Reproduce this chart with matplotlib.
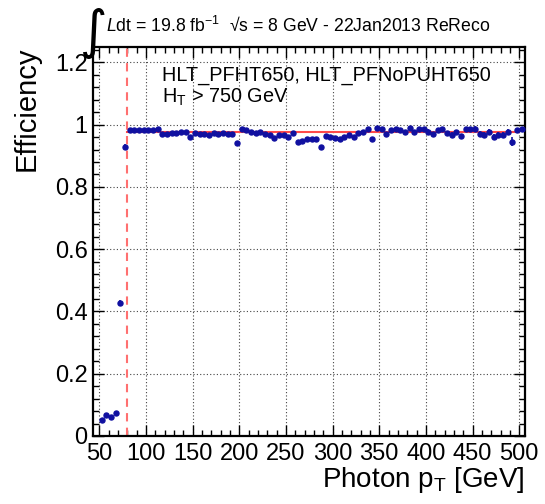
import numpy as np
import matplotlib
matplotlib.use("Agg")
import matplotlib.pyplot as plt
from matplotlib.ticker import MultipleLocator, FuncFormatter

plt.rcParams['font.family'] = ['Liberation Sans', 'DejaVu Sans']
plt.rcParams['mathtext.fontset'] = 'custom'
plt.rcParams['mathtext.rm'] = 'Liberation Sans'
plt.rcParams['mathtext.it'] = 'Liberation Sans:italic'

# photon pT bin centres (5 GeV bins) and trigger efficiency
pt_low = [52.5, 57.5, 62.5, 67.5, 72.5, 77.5]
eff_low = [0.052, 0.068, 0.061, 0.075, 0.427, 0.929]
err_low = [0.003, 0.003, 0.003, 0.004, 0.010, 0.008]

eff_plateau = [0.984, 0.983, 0.983, 0.983, 0.984, 0.984, 0.985,
               0.969, 0.970, 0.972, 0.974, 0.976, 0.976, 0.960, 0.974,
               0.971, 0.969, 0.967, 0.973, 0.971, 0.974, 0.969, 0.971,
               0.942, 0.985, 0.982, 0.978, 0.974, 0.976, 0.971, 0.966,
               0.957, 0.966, 0.968, 0.960, 0.974, 0.944, 0.949, 0.953,
               0.953, 0.955, 0.928, 0.963, 0.960, 0.957, 0.953, 0.960,
               0.966, 0.960, 0.974, 0.978, 0.987, 0.955, 0.990, 0.985,
               0.971, 0.982, 0.987, 0.982, 0.976, 0.989, 0.978, 0.987,
               0.985, 0.978, 0.971, 0.982, 0.987, 0.974, 0.968, 0.976,
               0.963, 0.987, 0.985, 0.987, 0.971, 0.968, 0.976, 0.960,
               0.968, 0.966, 0.976, 0.945, 0.982, 0.987]
err_plateau = [0.002] * 7 + [0.004] * 16 + [0.005] * 20 + [0.006] * 20 + \
              [0.007] * 10 + [0.009] * 9 + [0.015, 0.008, 0.006]
pt_plateau = [82.5 + 5 * i for i in range(len(eff_plateau))]

fit_value = 0.978
fit_range = [80, 500]
threshold = 80

fig = plt.figure(figsize=(5.45, 5.04), dpi=100)
ax = fig.add_axes([0.171, 0.135, 0.792, 0.772])

W, H = 545.0, 504.0

blue = '#1010a0'
ax.errorbar(pt_low + pt_plateau, eff_low + eff_plateau,
            xerr=2.0, yerr=err_low + err_plateau, fmt='o', color=blue,
            markersize=3.6, elinewidth=1.2, capsize=0, zorder=4)
ax.plot(fit_range, [fit_value, fit_value], color='#ff4a4a', lw=1.5, zorder=3)
ax.axvline(threshold, color='#ff7070', lw=1.5, ls=(0, (4, 3)), zorder=2)

ax.set_xlim(43.5, 506)
ax.set_ylim(0, 1.25)
ax.xaxis.set_major_locator(MultipleLocator(50))
ax.xaxis.set_minor_locator(MultipleLocator(10))
ax.yaxis.set_major_locator(MultipleLocator(0.2))
ax.yaxis.set_minor_locator(MultipleLocator(0.04))
ax.yaxis.set_major_formatter(FuncFormatter(lambda v, p: '%g' % round(v, 2)))
ax.tick_params(which='both', direction='in', top=True, right=True,
               labelsize=17, width=1.0)
ax.tick_params(which='major', length=8)
ax.tick_params(which='minor', length=4)
ax.tick_params(axis='x', pad=5)
ax.tick_params(axis='y', pad=4)
ax.grid(True, which='major', color='#444444', lw=0.8, ls=(0, (1, 2)))
for s in ax.spines.values():
    s.set_linewidth(1.6)

ax.set_xlabel(r'Photon p$_\mathrm{T}$ [GeV]', fontsize=20, loc='right',
              labelpad=0)
ax.set_ylabel('Efficiency', fontsize=21, loc='top', labelpad=10)

fig.text(80 / W, 1 - 48 / H, u'\u222b', fontsize=38, family='DejaVu Sans',
         va='baseline', ha='left')
fig.text(106 / W, 1 - 32 / H,
         r'$\it{L}$dt = 19.8 fb$^{\mathrm{-1}}$  ' + u'\u221as = 8 GeV - 22Jan2013 ReReco',
         fontsize=12.7, va='baseline', ha='left')
fig.text(162 / W, 1 - 81 / H, 'HLT_PFHT650, HLT_PFNoPUHT650',
         fontsize=14.3, va='baseline', ha='left')
fig.text(162 / W, 1 - 103 / H, r'H$_\mathrm{T}$ > 750 GeV',
         fontsize=14.3, va='baseline', ha='left')

fig.savefig('out.png', dpi=100)
